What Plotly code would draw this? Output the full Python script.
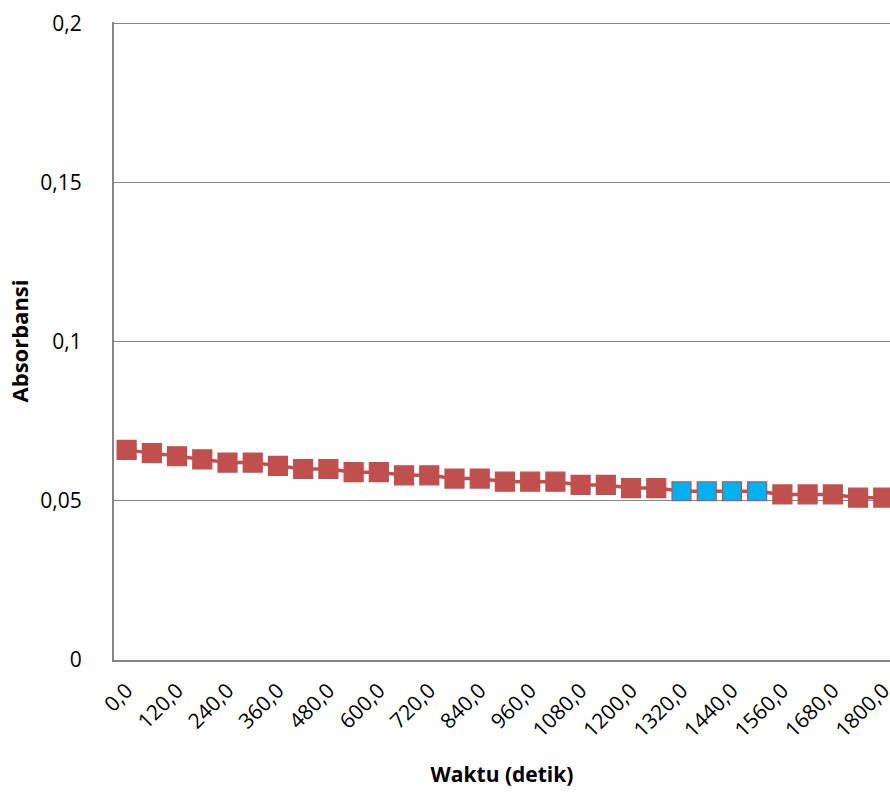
import plotly.graph_objects as go

time_s = [0, 60, 120, 180, 240, 300, 360, 420, 480, 540, 600, 660, 720, 780, 840, 900,
          960, 1020, 1080, 1140, 1200, 1260, 1320, 1380, 1440, 1500, 1560, 1620, 1680, 1740, 1800]
absorbance = [0.066, 0.065, 0.064, 0.063, 0.062, 0.062, 0.061, 0.060, 0.060, 0.059, 0.059,
              0.058, 0.058, 0.057, 0.057, 0.056, 0.056, 0.056, 0.055, 0.055, 0.054, 0.054,
              0.053, 0.053, 0.053, 0.053, 0.052, 0.052, 0.052, 0.051, 0.051]
highlight_times = [1320, 1380, 1440, 1500]
tick_times = list(range(0, 1801, 120))
tick_labels = [f"{t},0" for t in tick_times]
y_ticks = [0, 0.05, 0.1, 0.15, 0.2]

RED = "#C0504D"
BLUE = "#00B0F0"
marker_colors = [BLUE if t in highlight_times else RED for t in time_s]

fig = go.Figure()
fig.add_trace(go.Scatter(
    x=time_s, y=absorbance, mode="lines+markers",
    line=dict(color=RED, width=3.5),
    marker=dict(symbol="square", size=19, color=marker_colors,
                line=dict(color=RED, width=1.2)),
    showlegend=False, cliponaxis=True,
))

font_family = "Open Sans, Lato, sans-serif"
fig.update_layout(
    width=890, height=795, autosize=False,
    margin=dict(l=114, r=0, t=22, b=135, pad=0, autoexpand=False),
    paper_bgcolor="white", plot_bgcolor="white",
    separators=", ",
    font=dict(family=font_family, color="black"),
    xaxis=dict(
        range=[-30, 1816], automargin=False,
        tickmode="array", tickvals=tick_times, ticktext=tick_labels,
        tickangle=-45, tickfont=dict(size=21),
        ticklabeloverflow="allow", ticklabelstandoff=8,
        showgrid=False, zeroline=False,
        showline=True, linecolor="#868686", linewidth=2,
        ticks="",
        title=dict(text="<b>Waktu (detik)</b>", font=dict(size=21), standoff=26),
    ),
    yaxis=dict(
        range=[0, 0.2004], automargin=False,
        tickmode="array", tickvals=y_ticks,
        tickfont=dict(size=21),
        ticklabeloverflow="allow",
        showgrid=True, gridcolor="#868686", gridwidth=1,
        zeroline=False,
        showline=True, linecolor="#868686", linewidth=2,
        ticks="", ticklabelstandoff=26,
        title=dict(text="<b>Absorbansi</b>", font=dict(size=22), standoff=6),
    ),
)

fig.write_html(
    "out.html",
    config={"displayModeBar": False},
    post_script="document.body.style.margin='0';document.body.style.overflow='hidden';",
)
